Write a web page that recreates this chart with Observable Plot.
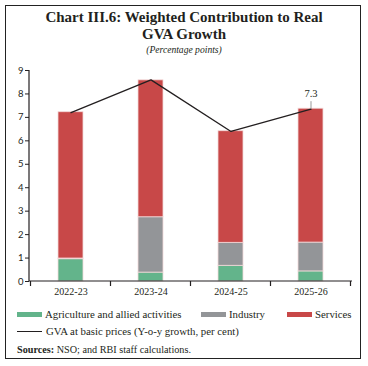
<!DOCTYPE html>
<html><head><meta charset="utf-8">
<script src="https://cdn.jsdelivr.net/npm/d3@7"></script>
<script src="https://cdn.jsdelivr.net/npm/@observablehq/plot@0.6"></script>
<style>
body{margin:0;width:368px;height:366px;overflow:hidden;background:#fff;font-family:"Liberation Serif",serif;color:#231f20;}
#frame{position:absolute;left:5px;top:5px;width:356px;height:354px;border:1.3px solid #222;box-sizing:border-box;}
#title{position:absolute;left:0;top:9px;width:368px;text-align:center;font-weight:bold;font-size:15px;line-height:17px;}
#sub{position:absolute;left:0;top:44px;width:368px;text-align:center;font-style:italic;font-size:9.6px;}
#chart{position:absolute;left:0;top:60px;}
.lg{position:absolute;font-size:10.8px;line-height:12px;white-space:nowrap;}
.sw{position:absolute;width:25px;height:5px;}
#src{position:absolute;left:17px;top:344px;font-size:10.2px;}
</style></head>
<body>
<div id="frame"></div>
<div id="title">Chart III.6: Weighted Contribution to Real<br>GVA Growth</div>
<div id="sub">(Percentage points)</div>
<div id="chart"></div>
<div id="legend"></div>
<div id="src"><b>Sources:</b> NSO; and RBI staff calculations.</div>
<script>
const years = ["2022-23", "2023-24", "2024-25", "2025-26"];
const agriculture = [0.95, 0.38, 0.67, 0.43];
const industry = [0.03, 2.36, 0.98, 1.23];
const services = [6.24, 5.84, 4.76, 5.71];
const gva = [7.2, 8.6, 6.4, 7.35];
const gvaLabels = ["", "", "", "7.3"];
const seriesNames = ["Agriculture and allied activities", "Industry", "Services"];
const seriesColors = ["#63b48b", "#939598", "#c84848"];
const lineName = "GVA at basic prices (Y-o-y growth, per cent)";
const yTicks = [0, 1, 2, 3, 4, 5, 6, 7, 8, 9];

const seriesValues = [agriculture, industry, services];
const bars = [];
seriesNames.forEach((s, i) => years.forEach((y, j) => bars.push({year: y, series: s, value: seriesValues[i][j]})));
const line = years.map((y, j) => ({year: y, value: gva[j], label: gvaLabels[j]}));

function axesMark(index, scales, values, dimensions) {
  const {width, height, marginLeft, marginRight, marginTop, marginBottom} = dimensions;
  const g = d3.create("svg:g").attr("stroke", "#231f20").attr("stroke-width", 1.2);
  const y0 = height - marginBottom;
  g.append("line").attr("x1", marginLeft).attr("x2", marginLeft).attr("y1", marginTop).attr("y2", y0);
  g.append("line").attr("x1", marginLeft).attr("x2", width - marginRight).attr("y1", y0).attr("y2", y0);
  const bw = scales.x.bandwidth ? scales.x.bandwidth() : 0;
  const step = scales.x.step ? scales.x.step() : 0;
  const pad = (step - bw) / 2;
  const bounds = years.map(y => scales.x(y) - pad);
  bounds.push(scales.x(years[years.length - 1]) + bw + pad);
  bounds.forEach(b => g.append("line").attr("x1", b).attr("x2", b).attr("y1", y0).attr("y2", y0 + 5));
  return g.node();
}

const chart = Plot.plot({
  width: 368,
  height: 240,
  marginLeft: 29,
  marginRight: 16,
  marginTop: 10,
  marginBottom: 19,
  style: {fontFamily: "Liberation Serif, serif", fontSize: "10px", color: "#231f20", background: "transparent"},
  x: {domain: years, paddingInner: 0.69, paddingOuter: 0.345, align: 0.5, label: null, tickSize: 0, tickPadding: 6},
  y: {domain: [0, 9], ticks: yTicks, tickSize: 4, tickPadding: 2, label: null, tickFormat: d3.format("d")},
  color: {domain: seriesNames, range: seriesColors},
  marks: [
    Plot.barY(bars, Plot.stackY({x: "year", y: "value", fill: "series", stroke: "#f3d9d9", strokeWidth: 0.8, order: null})),
    Plot.line(line, {x: "year", y: "value", stroke: "#231f20", strokeWidth: 1.3}),
    Plot.ruleX(line.filter(d => d.label), {x: "year", y1: "value", y2: d => d.value + 0.32, stroke: "#999", strokeWidth: 1}),
    Plot.text(line.filter(d => d.label), {x: "year", y: "value", text: "label", dy: -16, fontSize: 10.5, fill: "#231f20"}),
    axesMark
  ]
});
document.getElementById("chart").appendChild(chart);

chart.querySelectorAll("g[aria-label='y-axis tick label'] text, g[aria-label='y-axis'] text").forEach(t => {
  t.setAttribute("font-family", "Lato, sans-serif");
  t.setAttribute("font-size", "9.5");
});

const legend = document.getElementById("legend");
const pos = [[17, 45], [201, 229], [287, 315]];
seriesNames.forEach((s, i) => {
  const sw = document.createElement("div");
  sw.className = "sw"; sw.style.left = pos[i][0] + "px"; sw.style.top = "312px"; sw.style.background = seriesColors[i];
  legend.appendChild(sw);
  const t = document.createElement("div");
  t.className = "lg"; t.style.left = pos[i][1] + "px"; t.style.top = "308px"; t.textContent = s;
  legend.appendChild(t);
});
const ln = document.createElement("div");
ln.style.cssText = "position:absolute;left:17px;top:331px;width:25px;height:0;border-top:1px solid #231f20;";
legend.appendChild(ln);
const lt = document.createElement("div");
lt.className = "lg"; lt.style.left = "46px"; lt.style.top = "325px"; lt.textContent = lineName;
legend.appendChild(lt);
</script>
</body></html>
